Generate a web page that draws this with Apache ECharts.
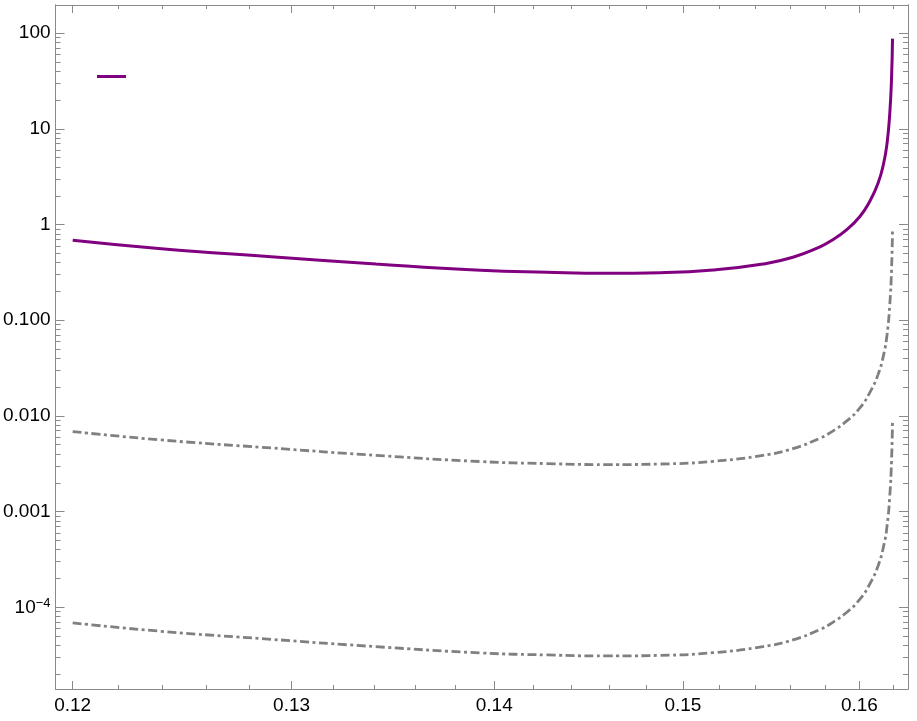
<!DOCTYPE html>
<html>
<head>
<meta charset="utf-8">
<script src="https://cdn.jsdelivr.net/npm/echarts@6/dist/echarts.min.js"></script>
<style>
html,body{margin:0;padding:0;background:#fff;}
#chart{width:917px;height:721px;}
</style>
</head>
<body>
<div id="chart"></div>
<script>
// ---- data ----
const xValues = [0.12, 0.12395, 0.12903, 0.13407, 0.13930, 0.14274, 0.14589, 0.14876, 0.15167, 0.15446, 0.15616, 0.15771, 0.15828, 0.15925, 0.16003, 0.16061, 0.16110, 0.16143, 0.16163, 0.16179, 0.16189, 0.16195];
const purpleValues = [0.686, 0.560, 0.462, 0.387, 0.333, 0.317, 0.3095, 0.314, 0.335, 0.387, 0.455, 0.584, 0.664, 0.88, 1.213, 1.75, 2.716, 4.40, 7.13, 14.7, 32.9, 87.8];
const grayUpperValues = [0.00686, 0.0056, 0.00462, 0.00387, 0.00333, 0.00317, 0.003095, 0.00314, 0.00335, 0.00387, 0.00455, 0.00584, 0.00664, 0.0088, 0.01213, 0.0175, 0.02716, 0.044, 0.0713, 0.147, 0.329, 0.878];
const grayLowerValues = [6.86e-5, 5.6e-5, 4.62e-5, 3.87e-5, 3.33e-5, 3.17e-5, 3.095e-5, 3.14e-5, 3.35e-5, 3.87e-5, 4.55e-5, 5.84e-5, 6.64e-5, 8.8e-5, 1.213e-4, 1.75e-4, 2.716e-4, 4.4e-4, 7.13e-4, 1.47e-3, 3.29e-3, 8.78e-3];

const xMajorTicks = [0.12, 0.13, 0.14, 0.15, 0.16];
const xTickLabels = ['0.12', '0.13', '0.14', '0.15', '0.16'];
const xMinorTicks = [0.122, 0.124, 0.126, 0.128, 0.132, 0.134, 0.136, 0.138, 0.142, 0.144, 0.146, 0.148, 0.152, 0.154, 0.156, 0.158, 0.162];
const yMajorTicks = [1e-4, 1e-3, 0.01, 0.1, 1, 10, 100];
const yTickLabels = ['{b|10}{s|\u22124}', '0.001', '0.010', '0.100', '1', '10', '100'];
const yMinorTicks = [];
[1e-5, 1e-4, 1e-3, 1e-2, 1e-1, 1, 10].forEach(d => { for (let k = 2; k <= 9; k++) yMinorTicks.push(+(k * d).toPrecision(3)); });

const xRange = [0.11925, 0.16287];
const yRange = [1.397e-5, 197.2];

// ---- chart ----
const frameColor = '#8a8a8a';
const font = 'Liberation Sans, Arial, sans-serif';

function labelFor(ticks, labels) {
  return function (v) {
    for (let i = 0; i < ticks.length; i++) {
      if (Math.abs(v - ticks[i]) / ticks[i] < 1e-6) return labels[i];
    }
    return '';
  };
}

function xAxisDef(pos, ticks, len, showLabel) {
  return {
    type: 'log', logBase: 10, position: pos, min: xRange[0], max: xRange[1],
    axisLine: { show: true, lineStyle: { color: frameColor, width: 1 } },
    splitLine: { show: false },
    minorTick: { show: false },
    axisTick: { show: true, inside: true, length: len, customValues: ticks, lineStyle: { color: frameColor, width: 1 } },
    axisLabel: showLabel ? {
      show: true, customValues: xMajorTicks, formatter: labelFor(xMajorTicks, xTickLabels),
      color: '#000', fontSize: 19, fontFamily: font, margin: 7
    } : { show: false }
  };
}
function yAxisDef(pos, ticks, len, showLabel) {
  return {
    type: 'log', logBase: 10, position: pos, min: yRange[0], max: yRange[1],
    axisLine: { show: true, lineStyle: { color: frameColor, width: 1 } },
    splitLine: { show: false },
    minorTick: { show: false },
    axisTick: { show: true, inside: true, length: len, customValues: ticks, lineStyle: { color: frameColor, width: 1 } },
    axisLabel: showLabel ? {
      show: true, customValues: yMajorTicks, formatter: labelFor(yMajorTicks, yTickLabels),
      color: '#000', fontSize: 19, fontFamily: font, margin: 5,
      rich: {
        b: { fontSize: 19, fontFamily: font, color: '#000', lineHeight: 21, verticalAlign: 'bottom' },
        s: { fontSize: 13, fontFamily: font, color: '#000', lineHeight: 21, verticalAlign: 'top' }
      }
    } : { show: false }
  };
}

const chart = echarts.init(document.getElementById('chart'), null, { renderer: 'canvas' });
const dashed = [9, 3.5, 3, 3.5];
const lineSmooth = 0.5;
chart.setOption({
  animation: false,
  backgroundColor: '#fff',
  grid: { left: 54, right: 9, top: 5, bottom: 32, containLabel: false },
  legend: {
    show: true, left: 97, top: 75, padding: 0, itemGap: 0,
    icon: 'rect', itemWidth: 29, itemHeight: 3,
    data: ['curve A'], formatter: function () { return ''; },
    textStyle: { fontSize: 1 }
  },
  xAxis: [
    xAxisDef('bottom', xMajorTicks, 8, true),
    xAxisDef('bottom', xMinorTicks, 4, false),
    xAxisDef('top', xMajorTicks, 8, false),
    xAxisDef('top', xMinorTicks, 4, false)
  ],
  yAxis: [
    yAxisDef('left', yMajorTicks, 9, true),
    yAxisDef('left', yMinorTicks, 5, false),
    yAxisDef('right', yMajorTicks, 9, false),
    yAxisDef('right', yMinorTicks, 5, false)
  ],
  series: [
    {
      name: 'curve B', type: 'line', xAxisIndex: 0, yAxisIndex: 0,
      data: xValues.map((x, i) => [x, grayUpperValues[i]]),
      showSymbol: false, symbol: 'none', smooth: lineSmooth,
      lineStyle: { color: '#808080', width: 2.8, type: dashed, cap: 'butt' }, z: 2
    },
    {
      name: 'curve C', type: 'line', xAxisIndex: 0, yAxisIndex: 0,
      data: xValues.map((x, i) => [x, grayLowerValues[i]]),
      showSymbol: false, symbol: 'none', smooth: lineSmooth,
      lineStyle: { color: '#808080', width: 2.8, type: dashed, cap: 'butt' }, z: 2
    },
    {
      name: 'curve A', type: 'line', xAxisIndex: 0, yAxisIndex: 0,
      data: xValues.map((x, i) => [x, purpleValues[i]]),
      showSymbol: false, symbol: 'none', smooth: lineSmooth,
      itemStyle: { color: '#800080' },
      lineStyle: { color: '#800080', width: 3 }, z: 3
    }
  ]
});
</script>
</body>
</html>
